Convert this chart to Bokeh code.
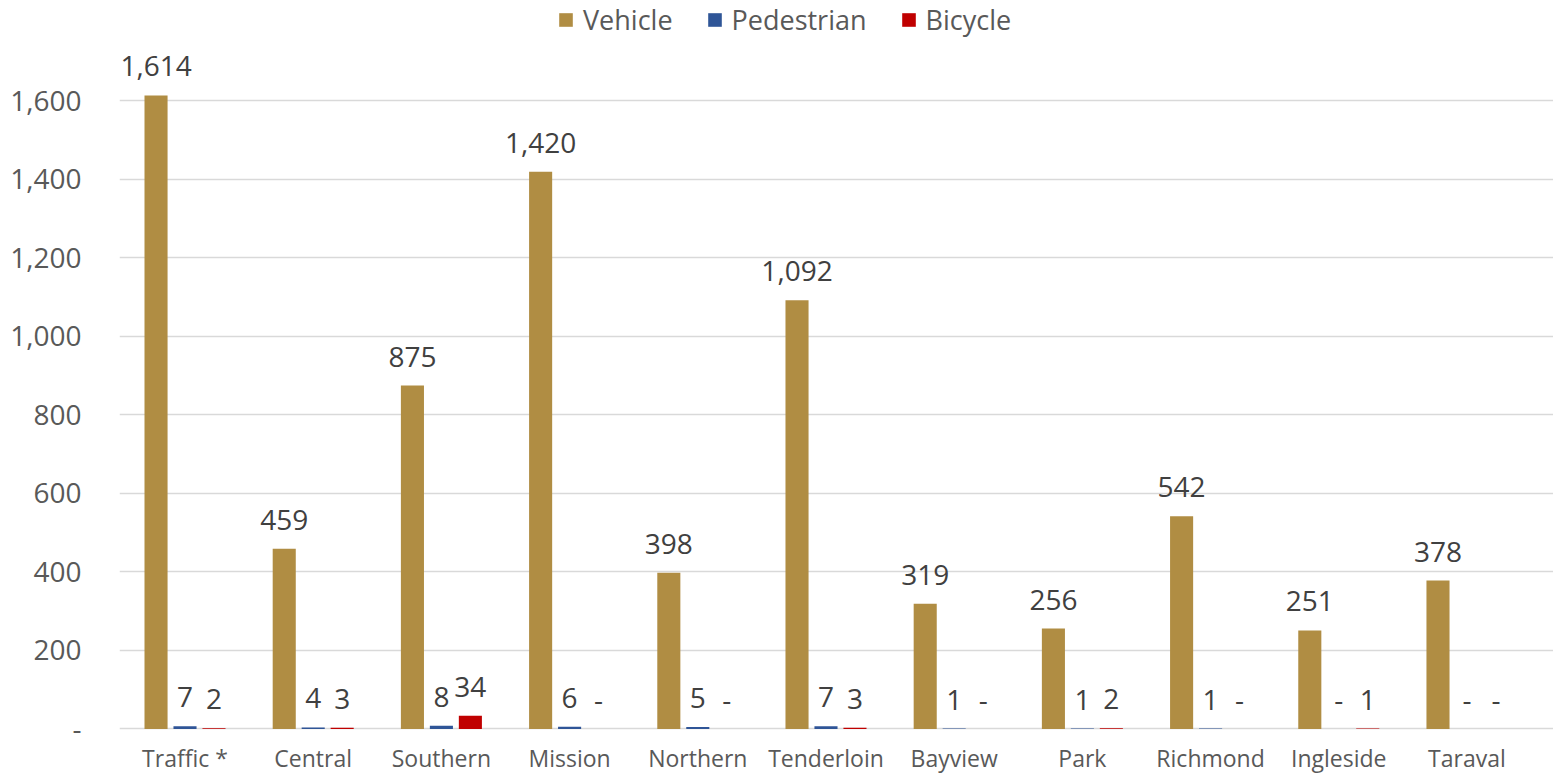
from bokeh.plotting import figure
from bokeh.models import ColumnDataSource, FixedTicker, NumeralTickFormatter, Range1d, Legend, LegendItem
from bokeh.core.properties import value
from bokeh.embed import file_html
from bokeh.resources import INLINE

districts = ["Traffic *", "Central", "Southern", "Mission", "Northern", "Tenderloin",
             "Bayview", "Park", "Richmond", "Ingleside", "Taraval"]
vehicle = [1614, 459, 875, 1420, 398, 1092, 319, 256, 542, 251, 378]
pedestrian = [7, 4, 8, 6, 5, 7, 1, 1, 1, 0, 0]
bicycle = [2, 3, 34, 0, 0, 3, 0, 2, 0, 1, 0]
series_names = ["Vehicle", "Pedestrian", "Bicycle"]
colors = ["#B08D43", "#2F5597", "#C00000"]
y_ticks = [0, 200, 400, 600, 800, 1000, 1200, 1400, 1600]

FONT = "Open Sans"

p = figure(width=1553, height=776, output_backend="svg", toolbar_location=None,
           x_range=Range1d(-0.511, 10.675), y_range=Range1d(-11.5, 1856.0),
           min_border_left=119, min_border_right=0, min_border_top=0, min_border_bottom=43)
p.outline_line_color = None
p.background_fill_color = "white"

def fmt(v):
    return "-" if v == 0 else f"{v:,}"

offsets = [-0.226, 0.0, 0.226]
renderers = []
for name, vals, col, off in zip(series_names, [vehicle, pedestrian, bicycle], colors, offsets):
    src = ColumnDataSource(dict(
        x=[i + off for i in range(len(districts))],
        top=vals,
        label=[fmt(v) for v in vals],
    ))
    r = p.vbar(x="x", top="top", width=0.18, source=src, fill_color=col, line_color=None)
    renderers.append(r)
    p.text(x="x", y="top", text="label", source=src, text_align="center",
           text_baseline="alphabetic", y_offset=-29, text_font=value(FONT),
           text_font_size="28px", text_color="#404040")

legend = Legend(items=[LegendItem(label=n, renderers=[r]) for n, r in zip(series_names, renderers)],
                orientation="horizontal", location=(438, 695))
legend.border_line_color = None
legend.background_fill_alpha = 0
legend.padding = 0
legend.margin = 0
legend.spacing = 33
legend.glyph_width = 17
legend.glyph_height = 17
legend.label_standoff = 9
legend.label_text_font = FONT
legend.label_text_font_size = "27px"
legend.label_text_color = "#595959"
p.add_layout(legend)

# y axis
p.yaxis.ticker = FixedTicker(ticks=y_ticks)
p.yaxis.formatter = NumeralTickFormatter(format="0,0")
p.yaxis.major_label_overrides = {0: "-"}
p.yaxis.axis_line_color = None
p.yaxis.major_tick_line_color = None
p.yaxis.minor_tick_line_color = None
p.yaxis.major_tick_out = 0
p.yaxis.major_label_standoff = 38
p.yaxis.major_label_text_font = FONT
p.yaxis.major_label_text_font_size = "28px"
p.yaxis.major_label_text_color = "#595959"

# x axis
p.xaxis.ticker = FixedTicker(ticks=list(range(len(districts))))
p.xaxis.major_label_overrides = {i: d for i, d in enumerate(districts)}
p.xaxis.axis_line_color = None
p.xaxis.major_tick_line_color = None
p.xaxis.minor_tick_line_color = None
p.xaxis.major_tick_out = 0
p.xaxis.major_label_standoff = 8
p.xaxis.major_label_text_font = FONT
p.xaxis.major_label_text_font_size = "23px"
p.xaxis.major_label_text_color = "#595959"

p.xgrid.visible = False
p.ygrid.ticker = FixedTicker(ticks=y_ticks)
p.ygrid.grid_line_color = "#D9D9D9"
p.ygrid.grid_line_width = 1.5

open("out.html", "w").write(file_html(p, INLINE))
